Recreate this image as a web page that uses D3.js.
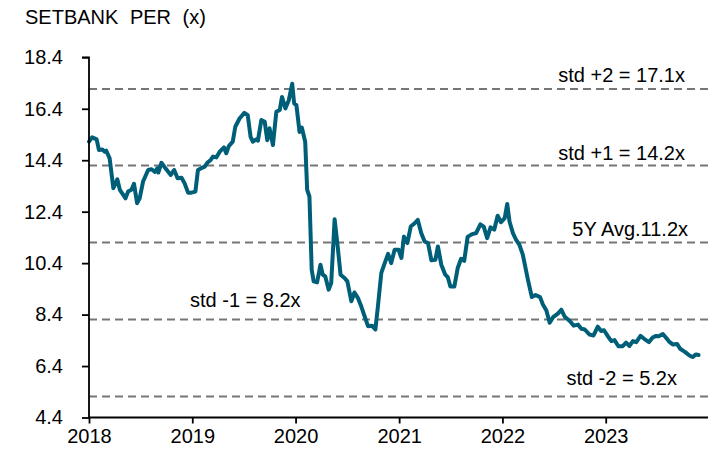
<!DOCTYPE html>
<html>
<head>
<meta charset="utf-8">
<script src="https://cdn.jsdelivr.net/npm/d3@7"></script>
<style>
  body { margin: 0; background: #fff; }
  svg text { font-family: "Liberation Sans", Arial, sans-serif; fill: #000; }
</style>
</head>
<body>
<div class="chart"></div>
<script>
// SETBANK PER, weekly-ish readings
const dates = [
  '2018-01-01','2018-01-12','2018-01-28','2018-02-05','2018-02-17','2018-02-26','2018-03-03','2018-03-15',
  '2018-03-28','2018-04-11','2018-04-20','2018-05-02','2018-05-10','2018-05-19','2018-05-31','2018-06-09',
  '2018-06-20','2018-06-29','2018-07-11','2018-07-29','2018-08-10','2018-08-22','2018-08-31','2018-09-03',
  '2018-09-14','2018-09-26','2018-10-17','2018-10-29','2018-11-10','2018-11-24','2018-12-05','2018-12-17',
  '2018-12-29','2019-01-12','2019-01-21','2019-02-02','2019-02-14','2019-02-23','2019-03-07','2019-03-15',
  '2019-03-27','2019-04-08','2019-04-23','2019-05-01','2019-05-10','2019-05-24','2019-06-02','2019-06-17',
  '2019-07-04','2019-07-16','2019-07-26','2019-08-03','2019-08-15','2019-08-21','2019-09-02','2019-09-14',
  '2019-09-23','2019-10-01','2019-10-13','2019-10-25','2019-11-06','2019-11-14','2019-11-26','2019-12-08',
  '2019-12-20','2019-12-27','2020-01-04','2020-01-15','2020-01-23','2020-02-04','2020-02-11','2020-02-19',
  '2020-02-27','2020-03-05','2020-03-17','2020-03-29','2020-04-06','2020-04-15','2020-04-27','2020-05-06',
  '2020-05-18','2020-05-30','2020-06-08','2020-06-22','2020-07-02','2020-07-16','2020-07-27','2020-08-08',
  '2020-08-20','2020-09-01','2020-09-13','2020-09-27','2020-10-09','2020-10-18','2020-10-30','2020-11-11',
  '2020-11-23','2020-12-04','2020-12-16','2020-12-30','2021-01-09','2021-01-18','2021-01-30','2021-02-11',
  '2021-02-25','2021-03-08','2021-03-20','2021-04-01','2021-04-13','2021-04-25','2021-05-09','2021-05-18',
  '2021-05-30','2021-06-13','2021-06-22','2021-07-01','2021-07-15','2021-07-27','2021-08-08','2021-08-19',
  '2021-08-31','2021-09-14','2021-09-30','2021-10-15','2021-10-27','2021-11-08','2021-11-20','2021-12-03',
  '2021-12-15','2021-12-27','2022-01-09','2022-01-18','2022-01-26','2022-02-07','2022-02-19','2022-03-02',
  '2022-03-14','2022-04-01','2022-04-15','2022-04-28','2022-05-14','2022-05-24','2022-06-05','2022-06-17',
  '2022-06-29','2022-07-16','2022-07-28','2022-08-09','2022-08-27','2022-09-10','2022-09-25','2022-10-07',
  '2022-10-19','2022-11-05','2022-11-19','2022-12-04','2022-12-16','2022-12-26','2023-01-09','2023-01-21',
  '2023-02-01','2023-02-15','2023-03-02','2023-03-14','2023-03-26','2023-04-07','2023-04-19','2023-05-04',
  '2023-05-18','2023-06-03','2023-06-16','2023-06-28','2023-07-07','2023-07-22','2023-07-31','2023-08-13',
  '2023-08-26','2023-09-10','2023-09-22','2023-10-08','2023-10-24','2023-11-04','2023-11-16','2023-11-25'
];
const per = [
  15.12,15.29,15.21,14.80,14.82,14.73,14.77,14.47,
  13.31,13.66,13.25,13.05,12.92,13.18,13.25,13.48,
  12.73,12.92,13.57,14.02,14.05,13.95,14.09,13.92,
  14.30,14.12,13.83,14.02,13.70,13.72,13.50,13.14,
  13.14,13.18,14.02,14.09,14.15,14.30,14.41,14.54,
  14.51,14.73,14.90,14.67,14.95,15.12,15.70,16.02,
  16.24,16.15,15.31,15.12,15.21,15.16,15.96,15.89,
  15.18,15.64,14.99,16.28,16.35,16.86,16.41,16.73,
  17.37,16.61,16.54,15.50,15.67,15.12,13.25,12.99,
  10.14,9.69,9.65,10.34,9.95,9.88,9.37,9.63,
  12.11,10.92,9.95,9.82,9.69,8.92,9.26,9.05,
  8.72,8.33,7.95,7.97,7.82,8.72,10.02,10.40,
  10.76,10.40,10.92,10.92,10.60,11.43,11.18,11.82,
  11.95,12.08,11.57,11.24,11.18,10.51,10.53,11.05,
  10.34,9.95,9.85,9.49,9.49,10.21,10.57,10.49,
  11.42,11.52,11.57,11.91,11.82,11.37,11.79,11.70,
  12.24,11.99,12.15,12.70,12.02,11.57,11.29,11.11,
  10.73,9.76,9.08,9.16,9.08,8.79,8.57,8.08,
  8.30,8.44,8.59,8.32,8.15,7.97,8.01,7.85,
  7.82,7.62,7.59,7.93,7.76,7.79,7.55,7.37,
  7.41,7.17,7.17,7.31,7.18,7.37,7.33,7.57,
  7.45,7.33,7.51,7.57,7.56,7.64,7.53,7.35,
  7.24,7.26,7.06,6.95,6.81,6.75,6.85,6.83
];

const refValues = [17.17, 14.19, 11.2, 8.21, 5.22];
const refLabels = ['std +2 = 17.1x', 'std +1 = 14.2x', '5Y Avg.11.2x', 'std -1 = 8.2x', 'std -2 = 5.2x'];
const yTicks = [4.4, 6.4, 8.4, 10.4, 12.4, 14.4, 16.4, 18.4];
const yearTicks = ['2018', '2019', '2020', '2021', '2022', '2023'];

const width = 708;
const height = 450;
const margin = { top: 57.3, right: -1, bottom: 32.5, left: 89 };

const parse = d3.timeParse('%Y-%m-%d');
const data = dates.map((d, i) => ({ date: parse(d), value: per[i] }));

const svg = d3.select('.chart')
  .append('svg')
  .attr('width', width)
  .attr('height', height);

const x = d3.scaleTime()
  .domain([new Date(2018, 0, 1), new Date(2024, 0, 1)])
  .range([margin.left, width - margin.right]);

const y = d3.scaleLinear()
  .domain([4.4, 18.4])
  .range([height - margin.bottom, margin.top]);

// title
svg.append('text')
  .attr('x', 25)
  .attr('y', 24)
  .attr('font-size', '20px')
  .attr('word-spacing', '6px')
  .text('SETBANK PER (x)');

// reference lines
svg.append('g')
  .selectAll('line')
  .data(refValues)
  .enter()
  .append('line')
  .attr('x1', margin.left)
  .attr('x2', width)
  .attr('y1', (d) => y(d))
  .attr('y2', (d) => y(d))
  .attr('stroke', '#767676')
  .attr('stroke-width', 2)
  .attr('stroke-dasharray', '8,5');

// reference labels (std -1 sits on the left, the others on the right)
const labelPos = [
  { x: 685, dy: -7, anchor: 'end' },
  { x: 685, dy: -6, anchor: 'end' },
  { x: 688, dy: -7, anchor: 'end' },
  { x: 190, dy: -12, anchor: 'start' },
  { x: 677, dy: -11, anchor: 'end' }
];
svg.append('g')
  .selectAll('text')
  .data(refValues)
  .enter()
  .append('text')
  .attr('x', (d, i) => labelPos[i].x)
  .attr('y', (d, i) => y(d) + labelPos[i].dy)
  .attr('text-anchor', (d, i) => labelPos[i].anchor)
  .attr('font-size', '20px')
  .text((d, i) => refLabels[i]);

// the series
const line = d3.line()
  .x((d) => x(d.date))
  .y((d) => y(d.value));

svg.append('path')
  .datum(data)
  .attr('fill', 'none')
  .attr('stroke', '#005f78')
  .attr('stroke-width', 4)
  .attr('stroke-linejoin', 'round')
  .attr('stroke-linecap', 'round')
  .attr('d', line);

// axes
const yAxis = svg.append('g')
  .attr('transform', `translate(${margin.left},0)`)
  .call(d3.axisLeft(y).tickValues(yTicks).tickFormat(d3.format('.1f')).tickSize(7).tickPadding(19));

const xAxis = svg.append('g')
  .attr('transform', `translate(0,${height - margin.bottom})`)
  .call(d3.axisBottom(x)
    .tickValues(yearTicks.map((t) => new Date(+t, 0, 1)))
    .tickFormat(d3.timeFormat('%Y'))
    .tickSize(6)
    .tickPadding(5));

[yAxis, xAxis].forEach((g) => {
  g.select('.domain').attr('stroke', '#000').attr('stroke-width', 1.8);
  g.selectAll('.tick line').attr('stroke', '#000').attr('stroke-width', 1.8);
  g.selectAll('.tick text')
    .attr('font-size', '20px')
    .attr('font-family', '"Liberation Sans", Arial, sans-serif')
    .attr('fill', '#000');
});
yAxis.select('.domain').attr('d', `M-7,${y(18.4)}H0V${y(4.4)}`);
xAxis.select('.domain').attr('d', `M${margin.left},0H${width}`);
</script>
</body>
</html>
